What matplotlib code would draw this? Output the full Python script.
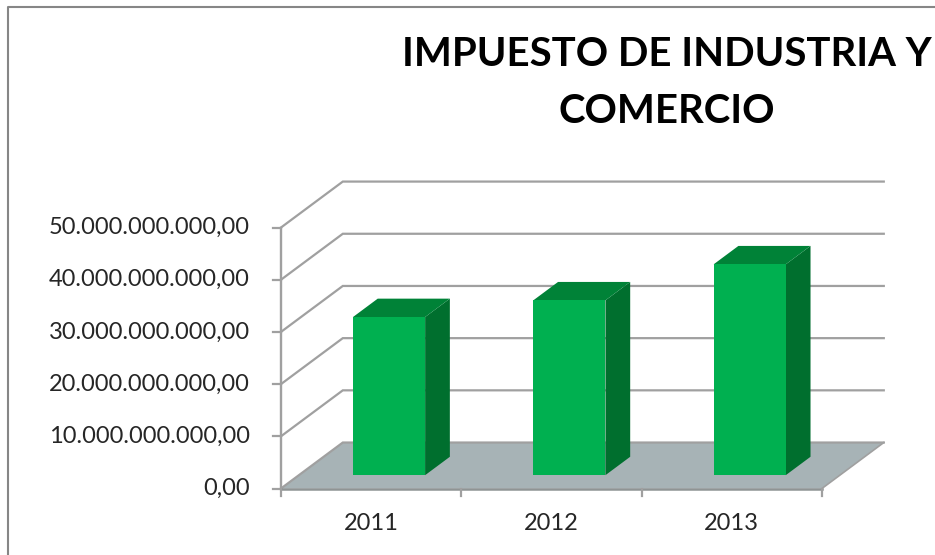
#!/usr/bin/env python3
# Excel-style 3D column chart, drawn on a flat axes with an oblique projection
import matplotlib
matplotlib.use("Agg")
import matplotlib.pyplot as plt

plt.rcParams["font.family"] = ["Lato", "DejaVu Sans"]

years = ["2011", "2012", "2013"]
values = [30.3e9, 33.5e9, 40.4e9]
y_ticks = [0, 10e9, 20e9, 30e9, 40e9, 50e9]
y_labels = ["0,00", "10.000.000.000,00", "20.000.000.000,00",
            "30.000.000.000,00", "40.000.000.000,00", "50.000.000.000,00"]
title = "IMPUESTO DE INDUSTRIA Y\nCOMERCIO"

# depth vector of the floor, in data units
DX = 0.343
DY = 8.81e9

BAR_W = 0.40
D_FRONT = 0.29
D_BACK = 0.69

GRID = "#a0a0a0"
FLOOR = "#a7b3b6"
FRONT = "#00b050"
TOP = "#008237"
SIDE = "#006f2e"
TEXT = "#262626"


def proj(x, y, d=0.0):
    # d = 0 at the front of the floor, 1 at the back wall
    return x + DX * d, y + DY * d


def face(ax, pts, color, z):
    xy = [proj(*p) for p in pts]
    ax.fill([p[0] for p in xy], [p[1] for p in xy], facecolor=color,
            edgecolor="none", zorder=z)


fig = plt.figure(figsize=(9.35, 5.55), dpi=100)
ax = fig.add_axes([0, 0, 1, 1])
ax.set_xlim(-1.558, 3.627)
ax.set_ylim(-12.74e9, 93.6e9)
ax.axis("off")

# outer chart frame, only left and top are in the crop
ax.plot([0.0088, 0.0088, 1.0], [0.0, 0.9865, 0.9865], transform=ax.transAxes,
        color="#868686", lw=1.5, clip_on=False, zorder=1)

n = len(years)
face(ax, [(0, 0, 0), (n, 0, 0), (n, 0, 1), (0, 0, 1)], FLOOR, 2)

# wall gridlines and the slanted side-wall lines
for t, lab in zip(y_ticks, y_labels):
    xa, ya = proj(0, t, 0)
    xb, yb = proj(0, t, 1)
    xc, yc = proj(n, t, 1)
    ax.plot([xa, xb, xc], [ya, yb, yc], color=GRID, lw=1.6, zorder=3,
            solid_joinstyle="miter")
    ax.plot([xa - 0.044, xa], [ya, ya], color=GRID, lw=1.6, zorder=3)
    ax.text(xa - 0.172, t, lab, ha="right", va="center", fontsize=17, color=TEXT)

# axis lines
ax.plot([0, 0], [0, y_ticks[-1]], color=GRID, lw=1.7, zorder=4)
ax.plot([0, n], [0, 0], color="#8f9494", lw=1.8, zorder=4)
for i in range(n + 1):
    ax.plot([i, i], [0, -1.4e9], color=GRID, lw=1.6, zorder=4)
xe, ye = proj(n, 0, 0)
xf, yf = proj(n, 0, 1)
ax.plot([xe, xf], [ye, yf], color=GRID, lw=1.2, zorder=3)

# bars
for i, (yr, v) in enumerate(zip(years, values)):
    x0 = i + 0.5 - BAR_W / 2
    x1 = i + 0.5 + BAR_W / 2
    face(ax, [(x1, 0, D_FRONT), (x1, 0, D_BACK), (x1, v, D_BACK), (x1, v, D_FRONT)], SIDE, 5)
    face(ax, [(x0, v, D_FRONT), (x1, v, D_FRONT), (x1, v, D_BACK), (x0, v, D_BACK)], TOP, 5)
    face(ax, [(x0, 0, D_FRONT), (x1, 0, D_FRONT), (x1, v, D_FRONT), (x0, v, D_FRONT)], FRONT, 6)
    ax.text(i + 0.5, -6.7e9, yr, ha="center", va="center", fontsize=17, color=TEXT)

ax.text(0.7135, 0.8505, title, transform=ax.transAxes, ha="center", va="center",
        fontsize=28.9, fontweight="bold", color="black", linespacing=1.65)

fig.savefig("out.png", dpi=100)
